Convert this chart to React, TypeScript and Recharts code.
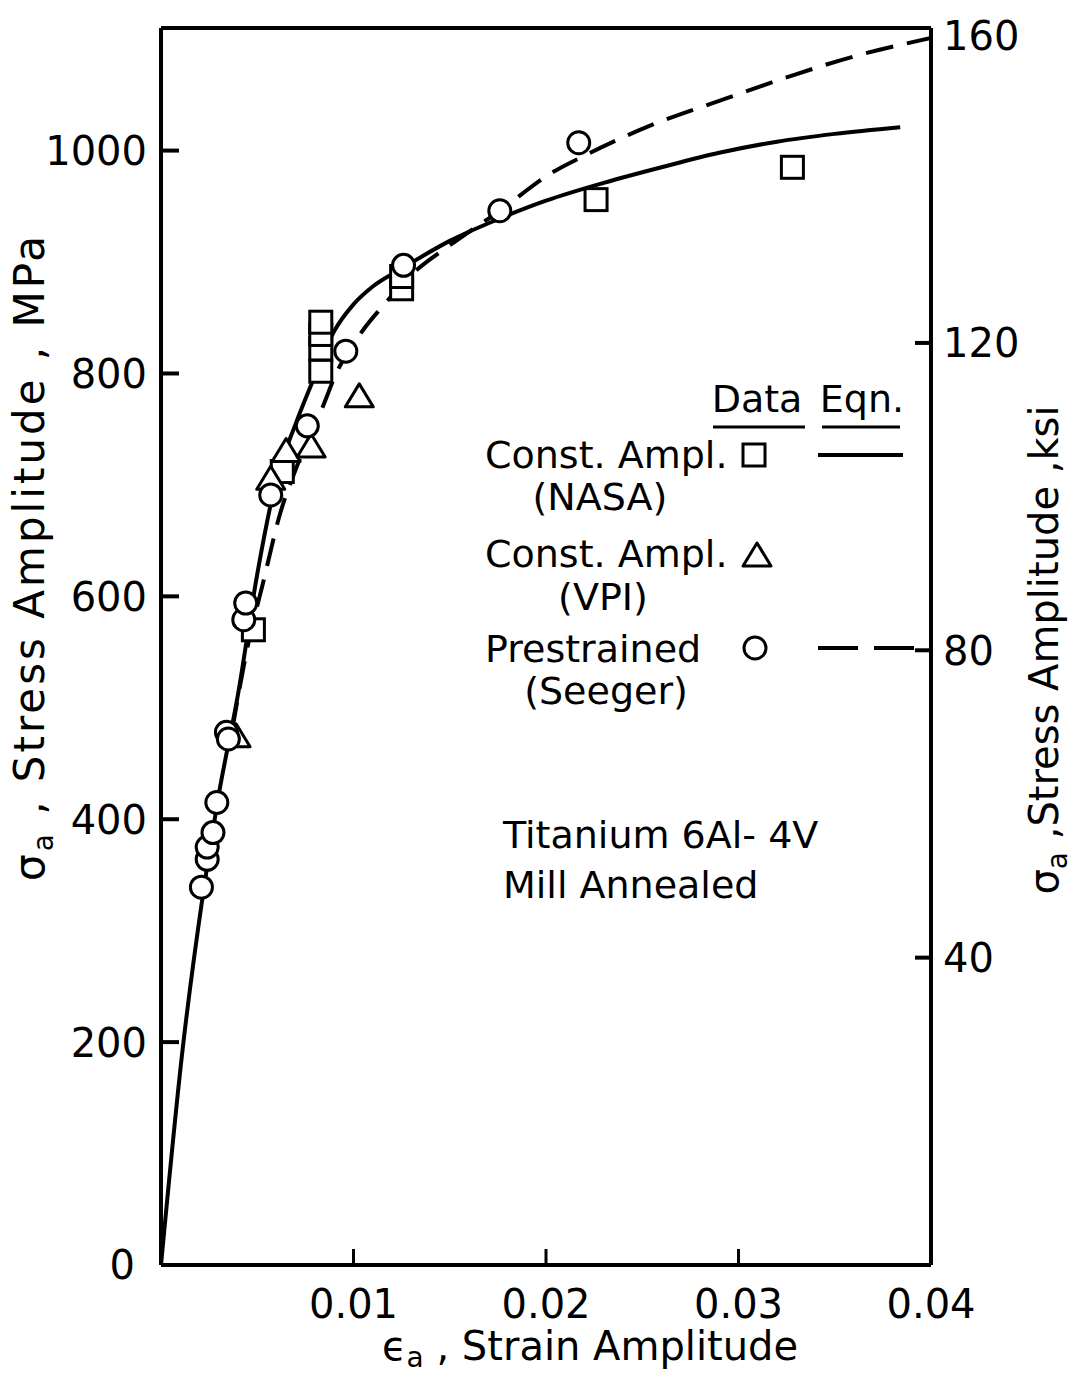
import React from 'react';
import { ComposedChart, Line, Scatter, XAxis, YAxis } from 'recharts';

const FONT = '"DejaVu Sans", "Liberation Sans", sans-serif';
const MPA_PER_KSI = 6.895;

const W = 1079;
const H = 1380;

// axis ticks
const strainTicks = [0.01, 0.02, 0.03, 0.04];
const topTicks = [0.01, 0.02, 0.03];
const mpaTicks = [0, 200, 400, 600, 800, 1000];
const ksiTicks = [40, 80, 120, 160];

// test data: strain amplitude vs stress amplitude (MPa)
const nasaPoints = [
  { x: 0.0048, y: 570 },
  { x: 0.0063, y: 712 },
  { x: 0.0083, y: 802 },
  { x: 0.0083, y: 822 },
  { x: 0.0083, y: 835 },
  { x: 0.0083, y: 846 },
  { x: 0.0125, y: 876 },
  { x: 0.0125, y: 887 },
  { x: 0.0226, y: 956 },
  { x: 0.0328, y: 985 },
];

const vpiPoints = [
  { x: 0.0039, y: 474 },
  { x: 0.0057, y: 705 },
  { x: 0.0065, y: 730 },
  { x: 0.0078, y: 734 },
  { x: 0.0103, y: 779 },
];

const seegerPoints = [
  { x: 0.0021, y: 339 },
  { x: 0.0024, y: 364 },
  { x: 0.0024, y: 375 },
  { x: 0.0027, y: 388 },
  { x: 0.0029, y: 415 },
  { x: 0.0034, y: 478 },
  { x: 0.0035, y: 472 },
  { x: 0.0043, y: 579 },
  { x: 0.0044, y: 594 },
  { x: 0.0057, y: 691 },
  { x: 0.0076, y: 753 },
  { x: 0.0096, y: 820 },
  { x: 0.0126, y: 897 },
  { x: 0.0176, y: 946 },
  { x: 0.0217, y: 1007 },
];

// fitted curves
const constAmplEqn = [
  { x: 0, y: 0 },
  { x: 0.0011, y: 190 },
  { x: 0.0022, y: 335 },
  { x: 0.003, y: 422 },
  { x: 0.004, y: 512 },
  { x: 0.005, y: 620 },
  { x: 0.006, y: 705 },
  { x: 0.007, y: 755 },
  { x: 0.008, y: 798 },
  { x: 0.009, y: 838 },
  { x: 0.010, y: 862 },
  { x: 0.011, y: 878 },
  { x: 0.0125, y: 894 },
  { x: 0.015, y: 919 },
  { x: 0.0176, y: 939 },
  { x: 0.020, y: 955 },
  { x: 0.023, y: 971 },
  { x: 0.026, y: 985 },
  { x: 0.029, y: 998 },
  { x: 0.032, y: 1008 },
  { x: 0.035, y: 1015 },
  { x: 0.0384, y: 1021 },
];

const prestrainedEqn = [
  { x: 0.0037, y: 480 },
  { x: 0.0045, y: 555 },
  { x: 0.0053, y: 612 },
  { x: 0.0062, y: 675 },
  { x: 0.0070, y: 714 },
  { x: 0.0084, y: 770 },
  { x: 0.0091, y: 800 },
  { x: 0.0105, y: 839 },
  { x: 0.0115, y: 860 },
  { x: 0.0131, y: 890 },
  { x: 0.0150, y: 915 },
  { x: 0.0176, y: 946 },
  { x: 0.0202, y: 979 },
  { x: 0.0223, y: 998 },
  { x: 0.0255, y: 1023 },
  { x: 0.0294, y: 1047 },
  { x: 0.0329, y: 1068 },
  { x: 0.0361, y: 1085 },
  { x: 0.0400, y: 1101 },
];

const Square = ({ cx, cy }: any) => (
  <rect x={cx - 11} y={cy - 11} width={22} height={22} fill="#fff" stroke="#000" strokeWidth={3} />
);

const Circle = ({ cx, cy }: any) => (
  <circle cx={cx} cy={cy} r={11} fill="#fff" stroke="#000" strokeWidth={3} />
);

const Triangle = ({ cx, cy }: any) => (
  <polygon
    points={`${cx},${cy - 13} ${cx + 14},${cy + 10} ${cx - 14},${cy + 10}`}
    fill="#fff"
    stroke="#000"
    strokeWidth={3}
    strokeLinejoin="round"
  />
);

const LeftTick = ({ x, y, payload }: any) => (
  <g>
    {payload.value !== 0 && <line x1={x} y1={y} x2={x + 18} y2={y} stroke="#000" strokeWidth={4} />}
    <text
      x={payload.value === 0 ? x - 26 : x - 14}
      y={y}
      dy="0.36em"
      textAnchor="end"
      fontSize={40}
      fontFamily={FONT}
      fill="#000"
    >
      {payload.value}
    </text>
  </g>
);

const RightTick = ({ x, y, payload }: any) => (
  <g>
    {payload.value !== 160 && <line x1={x - 16} y1={y} x2={x} y2={y} stroke="#000" strokeWidth={4} />}
    <text x={x + 12} y={y} dy="0.36em" textAnchor="start" fontSize={40} fontFamily={FONT} fill="#000">
      {payload.value}
    </text>
  </g>
);

const BottomTick = ({ x, y, payload }: any) => (
  <g>
    {payload.value !== 0.04 && <line x1={x} y1={y} x2={x} y2={y - 16} stroke="#000" strokeWidth={3} />}
    <text x={x} y={y + 53} textAnchor="middle" fontSize={40} fontFamily={FONT} fill="#000">
      {payload.value}
    </text>
  </g>
);

const TopTick = ({ x, y }: any) => (
  <line x1={x} y1={y} x2={x} y2={y + 16} stroke="#000" strokeWidth={3} />
);

const Overlay = () => (
  <svg
    width={W}
    height={H}
    style={{ position: 'absolute', left: 0, top: 0, pointerEvents: 'none' }}
    fontFamily={FONT}
    fill="#000"
  >
    {/* axis titles */}
    <text transform="translate(44,557) rotate(-90)" textAnchor="middle" fontSize={42} letterSpacing={3}>
      σ<tspan dy={9} fontSize={28}>a</tspan>
      <tspan dy={-9}>{'  , Stress Amplitude , MPa'}</tspan>
    </text>
    <text transform="translate(1058,650) rotate(-90)" textAnchor="middle" fontSize={40}>
      σ<tspan dy={9} fontSize={28}>a</tspan>
      <tspan dy={-9}>{' ,Stress Amplitude ,ksi'}</tspan>
    </text>
    <text x={590} y={1360} textAnchor="middle" fontSize={40}>
      ϵ<tspan dy={7} fontSize={28}>a</tspan>
      <tspan dy={-7}>{'  , Strain Amplitude'}</tspan>
    </text>

    {/* legend */}
    <text x={757} y={412} textAnchor="middle" fontSize={38}>Data</text>
    <line x1={713} y1={427} x2={805} y2={427} stroke="#000" strokeWidth={3} />
    <text x={862} y={412} textAnchor="middle" fontSize={38}>Eqn.</text>
    <line x1={822} y1={427} x2={900} y2={427} stroke="#000" strokeWidth={3} />

    <text x={485} y={468} fontSize={38}>Const. Ampl.</text>
    <text x={600} y={510} textAnchor="middle" fontSize={38}>(NASA)</text>
    <Square cx={754} cy={455} />
    <line x1={818} y1={455} x2={903} y2={455} stroke="#000" strokeWidth={4} />

    <text x={485} y={567} fontSize={38}>Const. Ampl.</text>
    <text x={603} y={610} textAnchor="middle" fontSize={38}>(VPI)</text>
    <Triangle cx={757} cy={556} />

    <text x={485} y={662} fontSize={38}>Prestrained</text>
    <text x={606} y={704} textAnchor="middle" fontSize={38}>(Seeger)</text>
    <Circle cx={755} cy={648} />
    <line x1={818} y1={648} x2={931} y2={648} stroke="#000" strokeWidth={4} strokeDasharray="40 16" />

    {/* material */}
    <text x={503} y={848} fontSize={38}>Titanium  6Al- 4V</text>
    <text x={503} y={898} fontSize={38}>Mill Annealed</text>
  </svg>
);

export default function App() {
  const maxMpa = 1110;
  return (
    <div style={{ position: 'absolute', left: 0, top: 0, width: W, height: H, background: '#fff' }}>
      <ComposedChart width={W} height={H} margin={{ top: 27, right: 0, bottom: 0, left: 0 }}>
        <XAxis
          xAxisId="bottom"
          dataKey="x"
          type="number"
          domain={[0, 0.04]}
          ticks={strainTicks}
          height={115}
          tickSize={0}
          tickMargin={0}
          tickLine={false}
          tick={<BottomTick />}
          axisLine={{ stroke: '#000', strokeWidth: 4 }}
          allowDataOverflow
        />
        <XAxis
          xAxisId="top"
          orientation="top"
          type="number"
          domain={[0, 0.04]}
          ticks={topTicks}
          height={1}
          tickSize={0}
          tickMargin={0}
          tickLine={false}
          tick={<TopTick />}
          axisLine={{ stroke: '#000', strokeWidth: 4 }}
          allowDataOverflow
        />
        <YAxis
          yAxisId="mpa"
          dataKey="y"
          type="number"
          domain={[0, maxMpa]}
          ticks={mpaTicks}
          width={161}
          tickSize={0}
          tickMargin={0}
          tickLine={false}
          tick={<LeftTick />}
          axisLine={{ stroke: '#000', strokeWidth: 4 }}
          allowDataOverflow
        />
        <YAxis
          yAxisId="ksi"
          orientation="right"
          type="number"
          domain={[0, maxMpa / MPA_PER_KSI]}
          ticks={ksiTicks}
          width={148}
          tickSize={0}
          tickMargin={0}
          tickLine={false}
          tick={<RightTick />}
          axisLine={{ stroke: '#000', strokeWidth: 4 }}
          allowDataOverflow
        />

        <Line
          xAxisId="bottom"
          yAxisId="mpa"
          data={constAmplEqn}
          dataKey="y"
          type="monotone"
          stroke="#000"
          strokeWidth={4}
          dot={false}
          isAnimationActive={false}
        />
        <Line
          xAxisId="bottom"
          yAxisId="mpa"
          data={prestrainedEqn}
          dataKey="y"
          type="monotone"
          stroke="#000"
          strokeWidth={4}
          strokeDasharray="28 14"
          dot={false}
          isAnimationActive={false}
        />
        <Scatter xAxisId="bottom" yAxisId="mpa" data={nasaPoints} dataKey="y" shape={<Square />} isAnimationActive={false} />
        <Scatter xAxisId="bottom" yAxisId="mpa" data={vpiPoints} dataKey="y" shape={<Triangle />} isAnimationActive={false} />
        <Scatter xAxisId="bottom" yAxisId="mpa" data={seegerPoints} dataKey="y" shape={<Circle />} isAnimationActive={false} />
      </ComposedChart>
      <Overlay />
    </div>
  );
}
